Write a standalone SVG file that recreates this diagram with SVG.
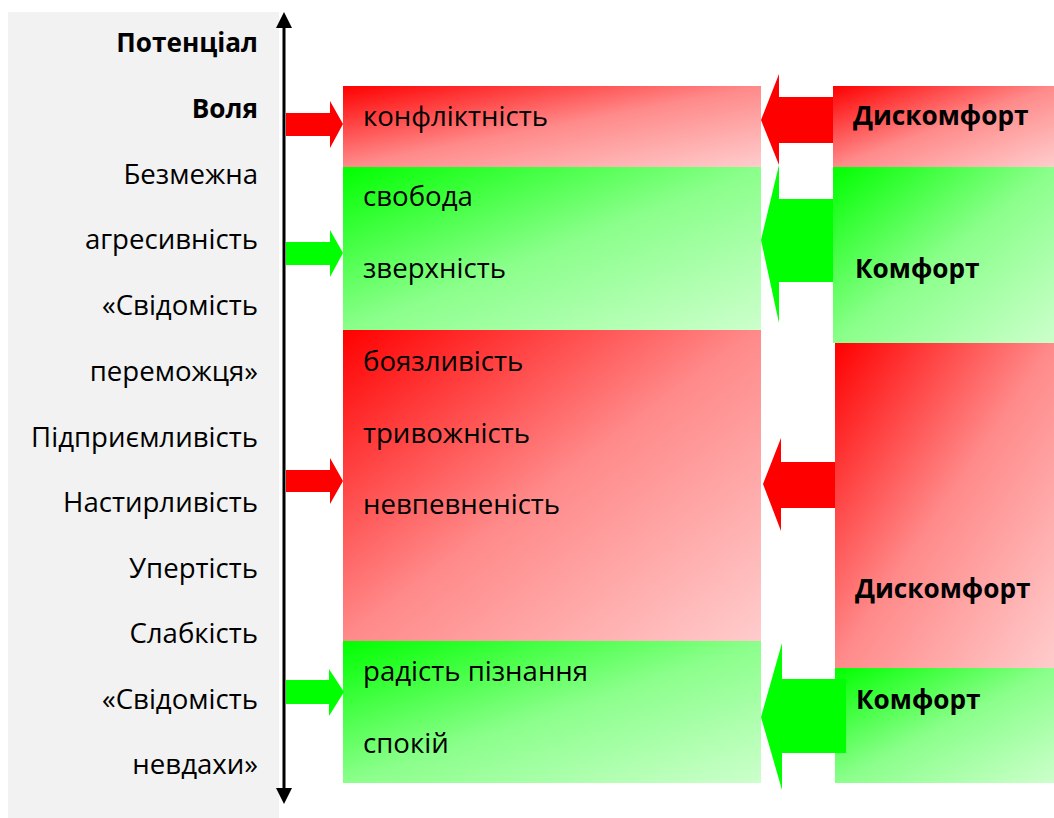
<svg xmlns="http://www.w3.org/2000/svg" width="1054" height="818" viewBox="0 0 1054 818">
<style>
.t{font-family:"Open Sans","Noto Sans","DejaVu Sans",sans-serif;font-size:27.6px;fill:#000}
.b{font-weight:bold;font-size:26.2px}
.e{text-anchor:end}
.r{fill:#ff0000}
.g{fill:#00ff00}
</style>
<defs>
<linearGradient id="gr" x1="0" y1="0" x2="1" y2="1">
<stop offset="0" stop-color="#ff0000"/>
<stop offset="0.5" stop-color="#ff8a8a"/>
<stop offset="1" stop-color="#ffcccc"/>
</linearGradient>
<linearGradient id="gg" x1="0" y1="0" x2="1" y2="1">
<stop offset="0" stop-color="#00ff00"/>
<stop offset="0.5" stop-color="#8aff8a"/>
<stop offset="1" stop-color="#ccffcc"/>
</linearGradient>
</defs>
<rect width="1054" height="818" fill="#ffffff"/>
<g id="scale">
<rect x="8" y="12" width="271" height="806" fill="#f2f2f2"/>
<text class="t b e" x="258" y="52">Потенціал</text>
<text class="t b e" x="258" y="118">Воля</text>
<text class="t e" x="258" y="184">Безмежна</text>
<text class="t e" x="258" y="249">агресивність</text>
<text class="t e" x="258" y="315">«Свідомість</text>
<text class="t e" x="258" y="381">переможця»</text>
<text class="t e" x="258" y="447">Підприємливість</text>
<text class="t e" x="258" y="512">Настирливість</text>
<text class="t e" x="258" y="578">Упертість</text>
<text class="t e" x="258" y="643">Слабкість</text>
<text class="t e" x="258" y="709">«Свідомість</text>
<text class="t e" x="258" y="774">невдахи»</text>
</g>
<g id="mid-conflict">
<rect x="343" y="86" width="418" height="81" fill="url(#gr)"/>
<text class="t" x="363" y="126">конфліктність</text>
</g>
<g id="mid-freedom">
<rect x="343" y="167" width="418" height="163" fill="url(#gg)"/>
<text class="t" x="363" y="206">свобода</text>
<text class="t" x="363" y="278">зверхність</text>
</g>
<g id="mid-fear">
<rect x="343" y="330" width="418" height="311" fill="url(#gr)"/>
<text class="t" x="363" y="371">боязливість</text>
<text class="t" x="363" y="443">тривожність</text>
<text class="t" x="363" y="514">невпевненість</text>
</g>
<g id="mid-joy">
<rect x="343" y="641" width="418" height="142" fill="url(#gg)"/>
<text class="t" x="363" y="681">радість пізнання</text>
<text class="t" x="363" y="753">спокій</text>
</g>
<g id="right-discomfort1">
<rect x="833" y="86" width="221" height="81" fill="url(#gr)"/>
<text class="t b" x="853" y="125">Дискомфорт</text>
</g>
<g id="right-comfort1">
<rect x="833" y="167" width="221" height="176" fill="url(#gg)"/>
<text class="t b" x="855" y="278">Комфорт</text>
</g>
<g id="right-discomfort2">
<rect x="835" y="343" width="219" height="325" fill="url(#gr)"/>
<text class="t b" x="855" y="598">Дискомфорт</text>
</g>
<g id="right-comfort2">
<rect x="835" y="668" width="219" height="115" fill="url(#gg)"/>
<text class="t b" x="856" y="709">Комфорт</text>
</g>
<g id="connectors">
<line x1="284" y1="24" x2="284" y2="791" stroke="#000" stroke-width="3"/>
<polygon points="284,12 292,28 276,28" fill="#000"/>
<polygon points="284,804 292,788 276,788" fill="#000"/>
<polygon class="r" points="286,113 330,113 330,101 343,124 330,148 330,136 286,136"/>
<polygon class="g" points="286,242 330,242 330,230 343,253 330,277 330,265 286,265"/>
<polygon class="r" points="286,470 330,470 330,458 343,481 330,504 330,492 286,492"/>
<polygon class="g" points="286,680 329,680 329,669 344,692 329,716 329,704 286,704"/>
<polygon class="r" points="833,97 779,97 779,74 761,120 779,165 779,143 833,143"/>
<polygon class="g" points="833,199 779,199 779,165 761,240 779,323 779,282 833,282"/>
<polygon class="r" points="835,462 781,462 781,438 763,484 781,531 781,508 835,508"/>
<polygon class="g" points="846,679 782,679 782,643 761,717 782,790 782,753 846,753"/>
</g>
</svg>
